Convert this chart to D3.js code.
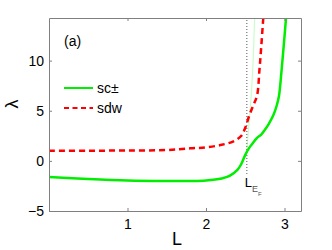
<!DOCTYPE html>
<html>
<head>
<meta charset="utf-8">
<script src="https://cdn.jsdelivr.net/npm/d3@7"></script>
<style>
  body { margin: 0; background: #fff; }
  svg { font-family: "Liberation Sans", Arial, sans-serif; }
</style>
</head>
<body>
<div id="chart"></div>
<script>
// data
var xTicks = [1, 2, 3];
var yTicks = [-5, 0, 5, 10];
var LEF = 2.52;

var scL   = [0, 0.5, 1.0, 1.5, 1.8, 2.0, 2.2, 2.3, 2.4, 2.45, 2.5, 2.55, 2.6, 2.65, 2.7, 2.75, 2.8, 2.86, 2.9, 2.93, 2.96, 2.99, 3.02];
var scLam = [-1.6, -1.8, -1.95, -2.0, -2.0, -1.95, -1.75, -1.5, -0.9, -0.3, 0.6, 1.3, 1.8, 2.3, 2.6, 3.1, 3.7, 4.6, 5.5, 6.5, 8.8, 11.5, 14.3];

var scBranchL   = [2.52, 2.53, 2.55, 2.58, 2.6, 2.62];
var scBranchLam = [1.0, 2.0, 4.0, 7.0, 10.0, 14.3];

var sdwL   = [0, 0.5, 1.0, 1.5, 1.8, 2.0, 2.2, 2.35, 2.45, 2.5, 2.55, 2.6, 2.65, 2.68, 2.7, 2.73];
var sdwLam = [1.02, 1.02, 1.03, 1.08, 1.25, 1.35, 1.6, 1.95, 2.5, 3.3, 4.5, 5.5, 6.5, 9, 11, 14.3];

var W = 332, H = 250;
var margin = { top: 18, right: 31, bottom: 39, left: 49 };
var width  = W - margin.left - margin.right,
    height = H - margin.top - margin.bottom;

var svg = d3.select('#chart').append('svg')
    .attr('width', W)
    .attr('height', H);

var g = svg.append('g')
    .attr('transform', 'translate(' + margin.left + ',' + margin.top + ')');

var x = d3.scaleLinear().domain([0, 3.21]).range([0, width]);
var y = d3.scaleLinear().domain([-5, 14.25]).range([height, 0]);

var axisColor = '#808080';

g.append('defs').append('clipPath').attr('id', 'clip')
  .append('rect').attr('width', width).attr('height', height);

// vertical dotted line at L_EF
g.append('line')
    .attr('x1', x(LEF)).attr('x2', x(LEF))
    .attr('y1', 2).attr('y2', y(-1.3))
    .style('stroke', '#555')
    .style('stroke-width', 1)
    .style('stroke-dasharray', '1,2');

var lineY = d3.line()
    .x(d => x(d[0]))
    .y(d => y(d[1]))
    .curve(d3.curveCatmullRom);

var plot = g.append('g').attr('clip-path', 'url(#clip)');

plot.append('path')
    .datum(d3.zip(scBranchL, scBranchLam))
    .attr('d', lineY)
    .style('fill', 'none')
    .style('stroke', '#00ee00')
    .style('stroke-opacity', 0.2)
    .style('stroke-width', 1.2);

plot.append('path')
    .datum(d3.zip(sdwL, sdwLam))
    .attr('d', lineY)
    .style('fill', 'none')
    .style('stroke', '#ff0000')
    .style('stroke-width', 2.5)
    .style('stroke-dasharray', '6,4');

plot.append('path')
    .datum(d3.zip(scL, scLam))
    .attr('d', lineY)
    .style('fill', 'none')
    .style('stroke', '#00ee00')
    .style('stroke-width', 2.5);

// axes (ticks inside, box)
var xAxis = g.append('g')
    .attr('transform', 'translate(0,' + height + ')')
    .call(d3.axisBottom(x).tickValues(xTicks).tickSizeInner(-3).tickSizeOuter(0).tickPadding(8)
      .tickFormat(d3.format('d')));
var yAxis = g.append('g')
    .call(d3.axisLeft(y).tickValues(yTicks).tickSizeInner(-3).tickSizeOuter(0).tickPadding(5)
      .tickFormat(d => d < 0 ? '\u2212' + Math.abs(d) : d));
var xTop = g.append('g')
    .call(d3.axisTop(x).tickValues(xTicks).tickSizeInner(-3).tickSizeOuter(0).tickFormat(''));
var yRight = g.append('g')
    .attr('transform', 'translate(' + width + ',0)')
    .call(d3.axisRight(y).tickValues(yTicks).tickSizeInner(-3).tickSizeOuter(0).tickFormat(''));

[xAxis, yAxis, xTop, yRight].forEach(a => {
    a.selectAll('path, line').style('stroke', axisColor).style('stroke-width', 1);
    a.selectAll('text').style('font-size', '14px').style('fill', '#000')
        .style('font-family', '"Liberation Sans", Arial, sans-serif');
});

// axis labels
svg.append('text')
    .attr('x', 177).attr('y', 245)
    .attr('text-anchor', 'middle')
    .style('font-size', '18px')
    .text('L');

svg.append('text')
    .attr('transform', 'translate(18,104) rotate(-90)')
    .attr('text-anchor', 'middle')
    .style('font-size', '18px')
    .text('\u03bb');

// panel label
g.append('text')
    .attr('x', 15).attr('y', 28)
    .style('font-size', '14px')
    .text('(a)');

// L_EF label
var lab = g.append('text')
    .attr('x', x(LEF) - 2).attr('y', 169)
    .style('font-size', '13px')
    .style('fill', '#000');
lab.append('tspan').text('L');
lab.append('tspan').attr('dy', 5).style('font-size', '9px').style('fill', '#555').text('E');
lab.append('tspan').attr('dy', 4).style('font-size', '6px').style('fill', '#555').text('F');

// legend
var legend = g.append('g');
legend.append('line')
    .attr('x1', 15).attr('x2', 44).attr('y1', 70).attr('y2', 70)
    .style('stroke', '#00ee00').style('stroke-width', 2);
legend.append('text')
    .attr('x', 48).attr('y', 75)
    .style('font-size', '14px')
    .text('sc\u00b1');
legend.append('line')
    .attr('x1', 15).attr('x2', 44).attr('y1', 90).attr('y2', 90)
    .style('stroke', '#ff0000').style('stroke-width', 2)
    .style('stroke-dasharray', '5,3.5');
legend.append('text')
    .attr('x', 48).attr('y', 95)
    .style('font-size', '14px')
    .text('sdw');
</script>
</body>
</html>
